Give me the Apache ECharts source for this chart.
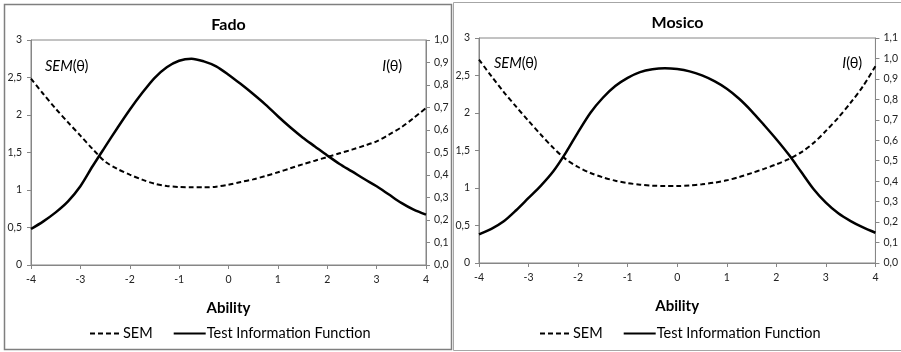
<!DOCTYPE html>
<html>
<head>
<meta charset="utf-8">
<script src="https://cdn.jsdelivr.net/npm/echarts@6/dist/echarts.min.js"></script>
<style>
  html, body { margin: 0; padding: 0; background: #fff; }
  #main { width: 901px; height: 352px; }
</style>
</head>
<body>
<div id="main"></div>
<script>
// ability grid (x) and the curves, step 0.25
var ability = [-4, -3.75, -3.5, -3.25, -3, -2.75, -2.5, -2.25, -2, -1.75, -1.5, -1.25, -1, -0.75, -0.5, -0.25,
               0, 0.25, 0.5, 0.75, 1, 1.25, 1.5, 1.75, 2, 2.25, 2.5, 2.75, 3, 3.25, 3.5, 3.75, 4];

var fadoSem  = [2.484, 2.280, 2.084, 1.902, 1.725, 1.545, 1.380, 1.280, 1.205, 1.138, 1.084, 1.053, 1.040, 1.036, 1.036, 1.044,
                1.071, 1.107, 1.142, 1.187, 1.236, 1.289, 1.342, 1.391, 1.440, 1.489, 1.538, 1.591, 1.649, 1.738, 1.836, 1.960, 2.093];
var fadoInfo = [0.160, 0.194, 0.234, 0.283, 0.350, 0.440, 0.525, 0.609, 0.690, 0.764, 0.831, 0.879, 0.908, 0.917, 0.905, 0.883,
                0.846, 0.804, 0.760, 0.713, 0.661, 0.612, 0.567, 0.527, 0.487, 0.449, 0.416, 0.382, 0.350, 0.313, 0.276, 0.246, 0.224];

var mosicoSem  = [2.712, 2.491, 2.279, 2.084, 1.894, 1.710, 1.535, 1.385, 1.280, 1.200, 1.142, 1.097, 1.066, 1.044, 1.031, 1.027,
                  1.027, 1.035, 1.049, 1.071, 1.102, 1.146, 1.199, 1.255, 1.315, 1.385, 1.475, 1.600, 1.761, 1.938, 2.137, 2.358, 2.624];
var mosicoInfo = [0.140, 0.167, 0.204, 0.258, 0.318, 0.378, 0.448, 0.538, 0.640, 0.735, 0.808, 0.865, 0.905, 0.933, 0.947, 0.952,
                  0.948, 0.937, 0.917, 0.889, 0.852, 0.803, 0.743, 0.675, 0.605, 0.530, 0.446, 0.362, 0.295, 0.243, 0.205, 0.174, 0.148];

var panels = ['Fado', 'Mosico'];
var infoMax = [1.0, 1.1];
var legendNames = ['SEM', 'Test Information Function'];

var font = 'Lato, "Open Sans", sans-serif';
var axisGray = '#868686';

function pairs(ys) {
  return ability.map(function (a, i) { return [a, ys[i]]; });
}
function comma(v, d) {
  return v.toFixed(d).replace('.', ',');
}

var chart = echarts.init(document.getElementById('main'));

var grids = [
  { left: 31, right: 475, top: 40, bottom: 87 },
  { left: 479, right: 25, top: 38, bottom: 89 }
];

var xAxes = [], yAxes = [], series = [], legends = [];

grids.forEach(function (g, k) {
  g.show = true;
  g.borderColor = axisGray;
  g.borderWidth = 1;

  xAxes.push({
    type: 'value', gridIndex: k, min: -4, max: 4, interval: 1,
    name: 'Ability', nameLocation: 'middle', nameGap: 36,
    nameTextStyle: { fontFamily: font, fontWeight: 'bold', fontSize: 15, color: '#000' },
    axisLine: { show: true, onZero: false, lineStyle: { color: axisGray } },
    axisTick: { show: true, length: 4, lineStyle: { color: axisGray } },
    axisLabel: { fontFamily: font, fontSize: 10.5, color: '#222', margin: 9 },
    splitLine: { show: false }
  });
  yAxes.push({
    type: 'value', gridIndex: k, min: 0, max: 3, interval: 0.5, position: 'left',
    axisLine: { show: true, onZero: false, lineStyle: { color: axisGray } },
    axisTick: { show: true, length: 4, lineStyle: { color: axisGray } },
    axisLabel: {
      fontFamily: font, fontSize: 10.5, color: '#222', margin: 9,
      formatter: function (v) { return v % 1 === 0 ? String(v) : comma(v, 1); }
    },
    splitLine: { show: false }
  });
  yAxes.push({
    type: 'value', gridIndex: k, min: 0, max: infoMax[k], interval: 0.1, position: 'right',
    axisLine: { show: true, onZero: false, lineStyle: { color: axisGray } },
    axisTick: { show: true, length: 4, lineStyle: { color: axisGray } },
    axisLabel: {
      fontFamily: font, fontSize: 10.5, color: '#222', margin: 8,
      formatter: function (v) { return comma(v, 1); }
    },
    splitLine: { show: false }
  });

  var sem = k === 0 ? fadoSem : mosicoSem;
  var info = k === 0 ? fadoInfo : mosicoInfo;

  series.push({
    name: 'SEM', type: 'line', xAxisIndex: k, yAxisIndex: k * 2,
    data: pairs(sem), smooth: 0.3, symbol: 'none',
    lineStyle: { color: '#000', width: 2, type: [5, 3] },
    itemStyle: { color: '#000' }
  });
  series.push({
    name: 'Test Information Function', type: 'line', xAxisIndex: k, yAxisIndex: k * 2 + 1,
    data: pairs(info), smooth: 0.3, symbol: 'none',
    lineStyle: { color: '#000', width: 2.5 },
    itemStyle: { color: '#000' }
  });

  legends.push({
    data: legendNames, left: k === 0 ? 89 : 539, top: 326, padding: 0,
    itemWidth: 32, itemHeight: 14, itemGap: 20, selectedMode: false,
    itemStyle: { opacity: 0 },
    textStyle: { fontFamily: font, fontSize: 14.5, color: '#000', padding: [0, 0, 0, -4] }
  });
});

// panel frames, titles and the curve tags
var graphics = [
  { type: 'rect', shape: { x: 4.5, y: 4.5, width: 447, height: 345 }, style: { fill: null, stroke: '#7f7f7f', lineWidth: 1.5 }, silent: true },
  { type: 'rect', shape: { x: 453.5, y: 2.5, width: 452, height: 348 }, style: { fill: null, stroke: '#a6a6a6', lineWidth: 1 }, silent: true }
];

var centers = [228.5, 677.5];
var semX = [45, 494];
var infoX = [402, 862];
var tagY = [66, 63];
var titleY = [25, 23];

function tag(main, x, y, align) {
  return {
    type: 'text', x: x, y: y, silent: true,
    style: {
      text: '{i|' + main + '}{n|(θ)}', align: align, verticalAlign: 'middle',
      rich: {
        i: { fontFamily: font, fontStyle: 'italic', fontSize: 14.5, fill: '#000' },
        n: { fontFamily: font, fontSize: 14.5, fill: '#000' }
      }
    }
  };
}

panels.forEach(function (p, k) {
  graphics.push({
    type: 'text', x: centers[k], y: titleY[k], silent: true,
    style: {
      text: p, align: 'center', verticalAlign: 'middle',
      fontFamily: font, fontWeight: 'bold', fontSize: 16, fill: '#000'
    }
  });
  graphics.push(tag('SEM', semX[k], tagY[k], 'left'));
  graphics.push(tag('I', infoX[k], tagY[k], 'right'));
});

chart.setOption({
  animation: false,
  backgroundColor: '#fff',
  grid: grids,
  xAxis: xAxes,
  yAxis: yAxes,
  legend: legends,
  series: series,
  graphic: graphics
});
</script>
</body>
</html>
